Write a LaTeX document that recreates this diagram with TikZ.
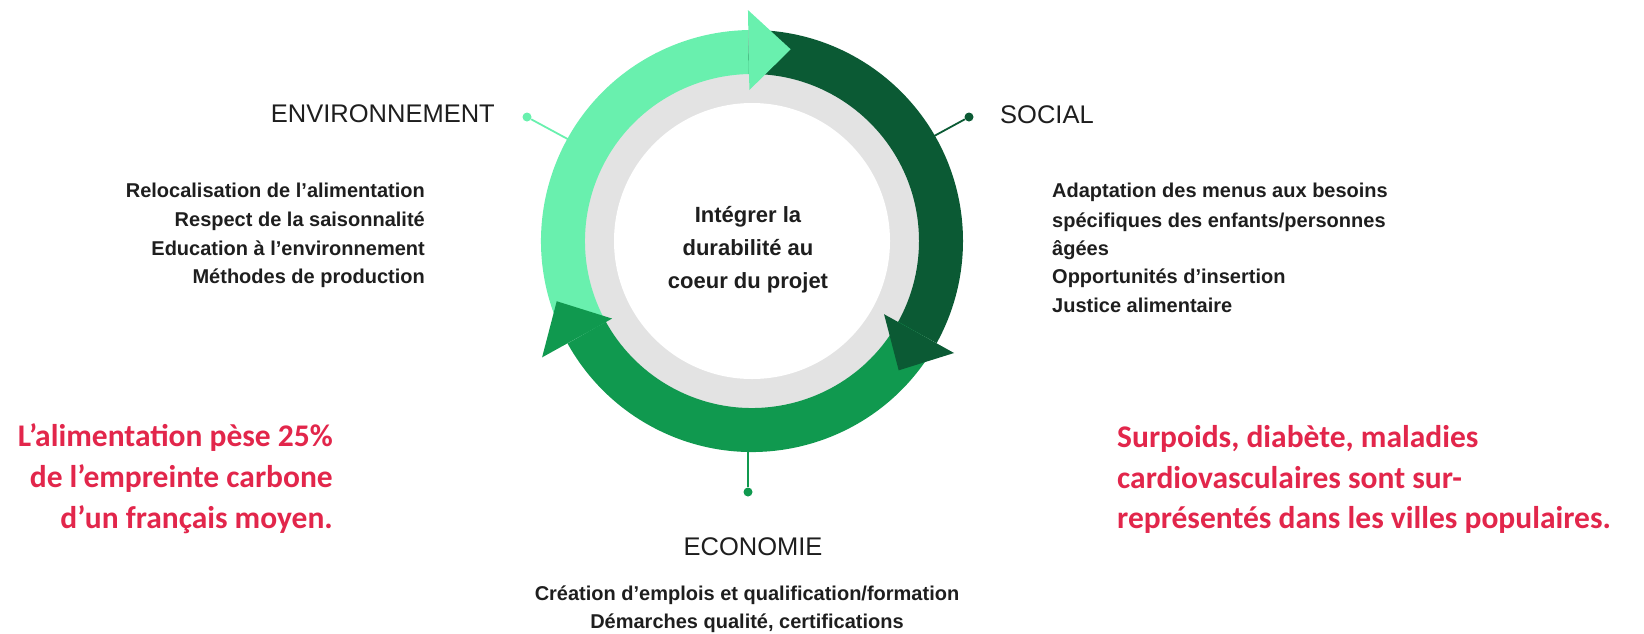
\documentclass[tikz,border=0pt]{standalone}
\usepackage{fontspec}
\setmainfont{Liberation Sans}
\newfontfamily\redfont{Carlito}
\usetikzlibrary{calc}
\definecolor{lgreen}{HTML}{69F0AE}
\definecolor{dgreen}{HTML}{0B5A34}
\definecolor{mgreen}{HTML}{10994F}
\definecolor{ringgray}{HTML}{E3E3E3}
\definecolor{alertred}{HTML}{E2264B}
\definecolor{ink}{HTML}{1E1E1E}
\begin{document}
\begin{tikzpicture}[x=1pt,y=-1pt,
  heading/.style={inner sep=0pt, font=\fontsize{25.5}{30}\selectfont, text=ink},
  item/.style={inner sep=0pt, font=\fontsize{20}{24}\selectfont\bfseries, text=ink},
  centertxt/.style={inner sep=0pt, font=\fontsize{22}{26}\selectfont\bfseries, text=ink},
  redtxt/.style={inner sep=0pt, font=\redfont\bfseries\fontsize{31.5}{36}\selectfont, text=alertred},
  dotnode/.style={circle, inner sep=0pt, minimum size=9pt},
  conn/.style={line width=1.8pt},
  band/.style={line width=44pt},
]
\useasboundingbox (0,0) rectangle (1644,633);

% connectors (drawn first, ring covers their inner ends)
\node[dotnode, fill=lgreen] (envdot) at (527,117) {};
\coordinate (envring) at (575,143);
\draw[conn, lgreen] (envdot) -- (envring);
\node[dotnode, fill=dgreen] (socdot) at (969,117) {};
\coordinate (socring) at (925,141);
\draw[conn, dgreen] (socdot) -- (socring);
\node[dotnode, fill=mgreen] (ecodot) at (748,492) {};
\coordinate (ecoring) at (748,440);
\draw[conn, mgreen] (ecodot) -- (ecoring);

% ring
\begin{scope}[shift={(752,241)}, yscale=-1]
  \fill[ringgray] (0,0) circle[radius=168];
  \fill[white] (0,0) circle[radius=138];
  \draw[band, lgreen] (209:189) arc[start angle=209, end angle=91, radius=189];
  \draw[band, dgreen] (91:189) arc[start angle=91, end angle=-29, radius=189];
  \draw[band, mgreen] (-29:189) arc[start angle=-29, end angle=-151, radius=189];
  \fill[lgreen] (91:151) -- (91:231) -- ($(91:191)+(1:42)$) -- cycle;
  \fill[dgreen] (-29:151) -- (-29:231) -- ($(-29:191)+(-119:42)$) -- cycle;
  \fill[mgreen] (209:160) -- (209:240) -- ($(209:200)+(119:42)$) -- cycle;
\end{scope}

% centre text
\node[centertxt, anchor=base] (c1) at (748,222) {Intégrer la};
\node[centertxt, anchor=base] (c2) at (748,255) {durabilité au};
\node[centertxt, anchor=base] (c3) at (748,288) {coeur du projet};

% environnement
\node[heading, anchor=base east] (envh) at (495,122) {ENVIRONNEMENT};
\node[item, anchor=base east] (env1) at (425,197) {Relocalisation de l’alimentation};
\node[item, anchor=base east] (env2) at (425,226) {Respect de la saisonnalité};
\node[item, anchor=base east] (env3) at (425,255) {Education à l’environnement};
\node[item, anchor=base east] (env4) at (425,283) {Méthodes de production};

% social
\node[heading, anchor=base west] (soch) at (1000,123) {SOCIAL};
\node[item, anchor=base west] (soc1) at (1052,197) {Adaptation des menus aux besoins};
\node[item, anchor=base west] (soc2) at (1052,227) {spécifiques des enfants/personnes};
\node[item, anchor=base west] (soc3) at (1052,255) {âgées};
\node[item, anchor=base west] (soc4) at (1052,283) {Opportunités d’insertion};
\node[item, anchor=base west] (soc5) at (1052,312) {Justice alimentaire};

% economie
\node[heading, anchor=base] (ecoh) at (753,555) {ECONOMIE};
\node[item, anchor=base] (eco1) at (747,600) {Création d’emplois et qualification/formation};
\node[item, anchor=base] (eco2) at (747,628) {Démarches qualité, certifications};

% red notes
\node[redtxt, anchor=base east] (l1) at (333,446) {L’alimentation pèse 25\%};
\node[redtxt, anchor=base east] (l2) at (333,487) {de l’empreinte carbone};
\node[redtxt, anchor=base east] (l3) at (333,528) {d’un français moyen.};
\node[redtxt, anchor=base west] (r1) at (1117,447) {Surpoids, diabète, maladies};
\node[redtxt, anchor=base west] (r2) at (1117,488) {cardiovasculaires sont sur-};
\node[redtxt, anchor=base west] (r3) at (1117,528) {représentés dans les villes populaires.};
\end{tikzpicture}
\end{document}
